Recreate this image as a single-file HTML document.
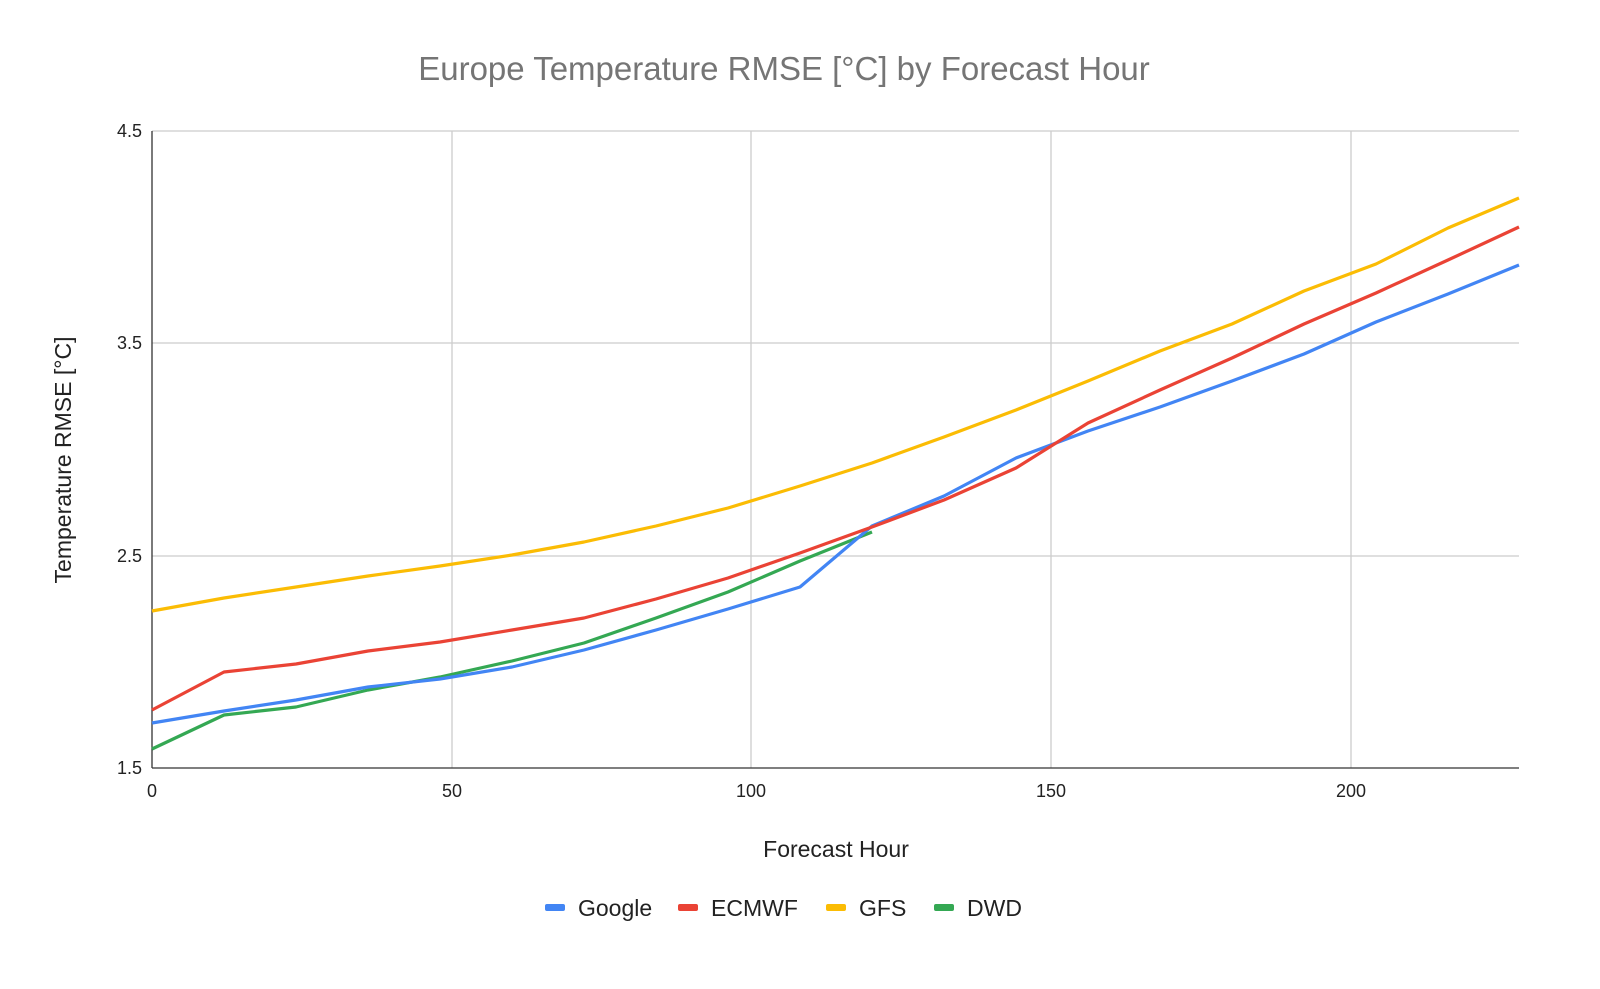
<!DOCTYPE html>
<html><head><meta charset="utf-8"><style>
html,body{margin:0;padding:0;background:#fff;}
svg{display:block;font-family:"Liberation Sans",sans-serif;}
</style></head><body>
<svg width="1600" height="989" viewBox="0 0 1600 989" xmlns="http://www.w3.org/2000/svg">
<rect width="1600" height="989" fill="#fff"/>
<text x="784" y="80" text-anchor="middle" font-size="33" fill="#757575">Europe Temperature RMSE [°C] by Forecast Hour</text>
<g stroke="#cccccc" stroke-width="1.3">
<line x1="152" y1="131" x2="1519" y2="131"/>
<line x1="152" y1="343" x2="1519" y2="343"/>
<line x1="152" y1="556" x2="1519" y2="556"/>
<line x1="452" y1="131" x2="452" y2="768"/>
<line x1="751" y1="131" x2="751" y2="768"/>
<line x1="1051" y1="131" x2="1051" y2="768"/>
<line x1="1351" y1="131" x2="1351" y2="768"/>
</g>
<line x1="152" y1="768" x2="1519" y2="768" stroke="#333" stroke-width="1.3"/>
<line x1="152" y1="131" x2="152" y2="768" stroke="#333" stroke-width="1.3"/>
<g font-size="18" fill="#222" text-anchor="end">
<text x="142" y="137">4.5</text><text x="142" y="349">3.5</text><text x="142" y="562">2.5</text><text x="142" y="774">1.5</text>
</g>
<g font-size="18" fill="#222" text-anchor="middle">
<text x="152" y="797">0</text><text x="452" y="797">50</text><text x="751" y="797">100</text><text x="1051" y="797">150</text><text x="1351" y="797">200</text>
</g>
<text x="836" y="857" text-anchor="middle" font-size="23" fill="#222">Forecast Hour</text>
<text transform="translate(71,460) rotate(-90)" text-anchor="middle" font-size="23" fill="#222">Temperature RMSE [°C]</text>
<g fill="none" stroke-width="3.2" stroke-linejoin="round">
<polyline stroke="#fbbc04" points="152,611 224,598 296,587 368,576 440,566 512,555 584,542 656,526 728,508 800,486 872,463 944,437 1016,410 1088,381 1160,351 1232,324 1304,291 1376,264 1448,228 1519,198"/>
<polyline stroke="#34a853" points="152,749 224,715 296,707 368,690 440,677 512,661 584,643 656,618 728,592 800,561 872,532"/>
<polyline stroke="#4285f4" points="152,723 224,711 296,700 368,687 440,679 512,667 584,650 656,630 728,609 800,587 872,526 944,496 1016,458 1088,431 1160,407 1232,381 1304,354 1376,322 1448,294 1519,265"/>
<polyline stroke="#ea4335" points="152,710 224,672 296,664 368,651 440,642 512,630 584,618 656,599 728,578 800,553 872,527 944,500 1016,468 1088,423 1160,390 1232,358 1304,324 1376,293 1448,260 1519,227"/>
</g>
<g font-size="23" fill="#222">
<rect x="545" y="904" width="20" height="7" rx="2" fill="#4285f4"/><text x="578" y="916">Google</text>
<rect x="678" y="904" width="20" height="7" rx="2" fill="#ea4335"/><text x="711" y="916">ECMWF</text>
<rect x="826" y="904" width="20" height="7" rx="2" fill="#fbbc04"/><text x="859" y="916">GFS</text>
<rect x="934" y="904" width="20" height="7" rx="2" fill="#34a853"/><text x="967" y="916">DWD</text>
</g>
</svg>
</body></html>
